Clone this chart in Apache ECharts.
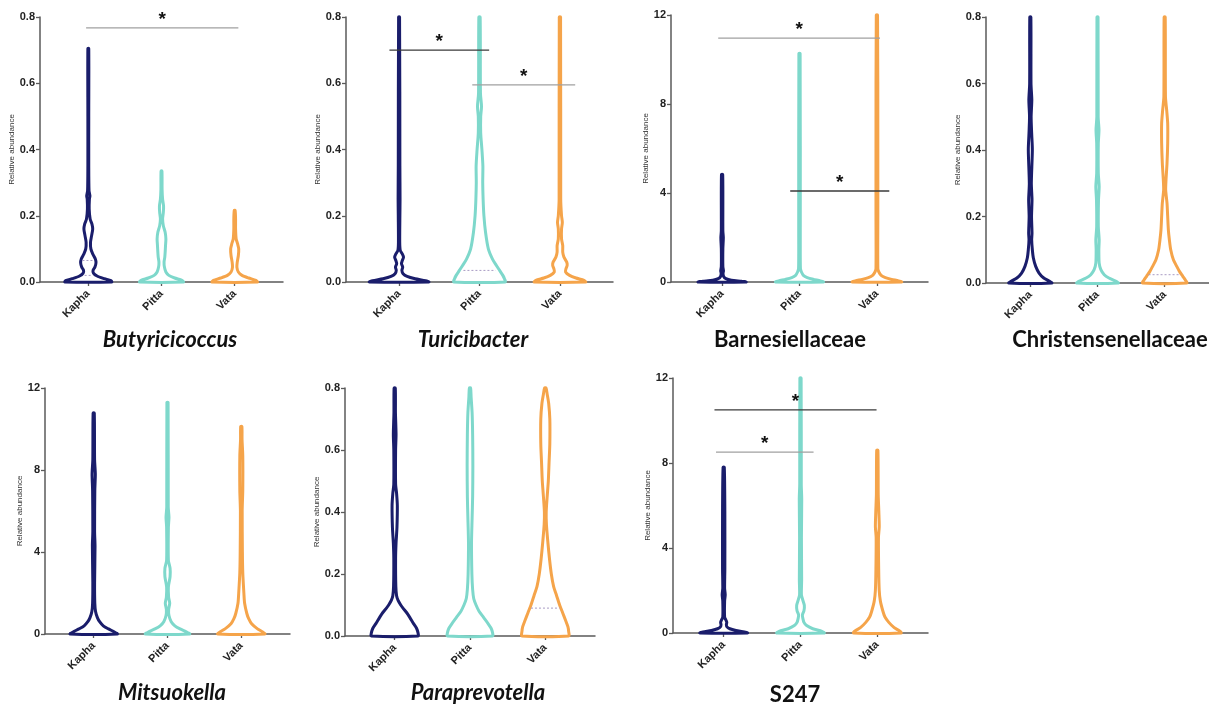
<!DOCTYPE html>
<html>
<head>
<meta charset="utf-8">
<script src="https://cdn.jsdelivr.net/npm/echarts@6/dist/echarts.min.js"></script>
<style>html,body{margin:0;background:#fff}#main{width:1209px;height:709px}</style>
</head>
<body>
<div id="main"></div>
<script>
// groups on the x axis
var groups = ['Kapha', 'Pitta', 'Vata'];

// violin outlines: [relative abundance, half width (in group spacing)]
var butyKapha = [[0,0.32],[0.004,0.31],[0.01,0.22],[0.018,0.12],[0.027,0.07],[0.035,0.065],[0.045,0.09],[0.058,0.105],[0.07,0.095],[0.085,0.06],[0.1,0.035],[0.12,0.03],[0.14,0.045],[0.16,0.06],[0.175,0.05],[0.19,0.025],[0.22,0.012],[0.25,0.015],[0.26,0.022],[0.275,0.01],[0.35,0.006],[0.5,0.006],[0.705,0.006]];
var butyPitta = [[0,0.3],[0.005,0.28],[0.012,0.18],[0.02,0.1],[0.03,0.06],[0.045,0.04],[0.06,0.035],[0.075,0.045],[0.09,0.05],[0.11,0.055],[0.13,0.06],[0.15,0.05],[0.17,0.025],[0.19,0.015],[0.21,0.025],[0.23,0.028],[0.25,0.015],[0.28,0.008],[0.335,0.006]];
var butyVata = [[0,0.31],[0.005,0.29],[0.012,0.19],[0.02,0.1],[0.03,0.05],[0.045,0.03],[0.06,0.035],[0.08,0.05],[0.1,0.055],[0.115,0.04],[0.13,0.02],[0.16,0.012],[0.19,0.012],[0.216,0.006]];

var turiKapha = [[0,0.37],[0.004,0.33],[0.01,0.2],[0.017,0.1],[0.025,0.05],[0.035,0.035],[0.045,0.045],[0.055,0.03],[0.065,0.04],[0.075,0.055],[0.085,0.04],[0.095,0.015],[0.12,0.008],[0.2,0.01],[0.25,0.012],[0.35,0.01],[0.8,0.006]];
var turiPitta = [[0,0.32],[0.01,0.31],[0.02,0.29],[0.035,0.25],[0.05,0.21],[0.07,0.16],[0.1,0.11],[0.15,0.075],[0.2,0.055],[0.25,0.045],[0.3,0.04],[0.35,0.042],[0.4,0.03],[0.45,0.015],[0.5,0.015],[0.53,0.025],[0.57,0.012],[0.8,0.008]];
var turiVata = [[0,0.32],[0.005,0.3],[0.012,0.2],[0.02,0.12],[0.03,0.07],[0.04,0.075],[0.05,0.09],[0.06,0.085],[0.075,0.05],[0.09,0.035],[0.11,0.035],[0.13,0.02],[0.16,0.02],[0.18,0.03],[0.2,0.02],[0.25,0.01],[0.8,0.008]];

var barnKapha = [[0,0.31],[0.03,0.25],[0.08,0.12],[0.15,0.05],[0.25,0.02],[0.4,0.012],[0.5,0.018],[0.7,0.01],[1.5,0.01],[2.0,0.016],[2.3,0.01],[4.83,0.008]];
var barnPitta = [[0,0.31],[0.05,0.27],[0.12,0.18],[0.2,0.1],[0.3,0.05],[0.45,0.025],[0.6,0.012],[2,0.01],[10.27,0.008]];
var barnVata = [[0,0.32],[0.05,0.28],[0.12,0.19],[0.2,0.11],[0.3,0.055],[0.45,0.025],[0.6,0.012],[3,0.012],[6,0.012],[12,0.008]];

var chriKapha = [[0,0.32],[0.006,0.28],[0.015,0.2],[0.03,0.13],[0.05,0.08],[0.075,0.045],[0.1,0.03],[0.13,0.02],[0.15,0.025],[0.2,0.018],[0.25,0.025],[0.3,0.015],[0.4,0.03],[0.45,0.02],[0.5,0.012],[0.55,0.022],[0.6,0.01],[0.8,0.008]];
var chriPitta = [[0,0.31],[0.006,0.27],[0.015,0.17],[0.025,0.1],[0.04,0.05],[0.06,0.025],[0.1,0.02],[0.13,0.025],[0.17,0.012],[0.25,0.015],[0.29,0.025],[0.33,0.012],[0.42,0.012],[0.46,0.022],[0.5,0.01],[0.8,0.008]];
var chriVata = [[0,0.33],[0.008,0.31],[0.02,0.27],[0.035,0.22],[0.05,0.18],[0.07,0.13],[0.1,0.09],[0.13,0.07],[0.16,0.055],[0.2,0.045],[0.24,0.035],[0.28,0.015],[0.31,0.02],[0.36,0.035],[0.42,0.045],[0.48,0.045],[0.52,0.03],[0.56,0.012],[0.8,0.008]];

var mitsKapha = [[0,0.32],[0.1,0.28],[0.25,0.2],[0.4,0.13],[0.6,0.08],[0.8,0.05],[1.1,0.025],[1.5,0.015],[2.5,0.012],[4.3,0.018],[5,0.012],[7,0.015],[7.8,0.022],[8.5,0.012],[10.78,0.008]];
var mitsPitta = [[0,0.3],[0.1,0.26],[0.25,0.17],[0.4,0.1],[0.6,0.05],[0.9,0.02],[1.2,0.015],[1.5,0.03],[1.8,0.015],[2.3,0.012],[2.8,0.035],[3.2,0.035],[3.6,0.012],[5.2,0.012],[5.7,0.02],[6.2,0.01],[11.3,0.008]];
var mitsVata = [[0,0.32],[0.1,0.29],[0.25,0.22],[0.5,0.14],[0.75,0.1],[1.0,0.075],[1.5,0.045],[2.0,0.035],[3,0.02],[4,0.015],[6,0.012],[7,0.02],[8.7,0.02],[9.5,0.01],[10.13,0.008]];

var paraKapha = [[0,0.31],[0.01,0.31],[0.025,0.29],[0.04,0.25],[0.06,0.2],[0.075,0.16],[0.09,0.11],[0.1,0.08],[0.115,0.045],[0.13,0.025],[0.16,0.015],[0.25,0.012],[0.3,0.018],[0.35,0.03],[0.42,0.035],[0.46,0.025],[0.49,0.012],[0.6,0.012],[0.65,0.018],[0.72,0.01],[0.8,0.008]];
var paraPitta = [[0,0.3],[0.01,0.3],[0.025,0.28],[0.04,0.24],[0.06,0.18],[0.08,0.12],[0.1,0.08],[0.12,0.05],[0.15,0.035],[0.2,0.025],[0.3,0.02],[0.38,0.028],[0.45,0.035],[0.55,0.038],[0.65,0.035],[0.72,0.028],[0.77,0.015],[0.8,0.008]];
var paraVata = [[0,0.31],[0.015,0.31],[0.03,0.3],[0.05,0.27],[0.075,0.23],[0.1,0.19],[0.13,0.15],[0.16,0.11],[0.2,0.08],[0.25,0.055],[0.3,0.035],[0.36,0.015],[0.4,0.012],[0.45,0.025],[0.5,0.04],[0.56,0.05],[0.62,0.06],[0.7,0.06],[0.75,0.045],[0.78,0.025],[0.8,0.01]];

var s247Kapha = [[0,0.31],[0.05,0.27],[0.12,0.16],[0.2,0.08],[0.3,0.04],[0.4,0.035],[0.5,0.04],[0.6,0.03],[0.75,0.012],[1.5,0.012],[1.8,0.02],[2.1,0.012],[3,0.015],[5.7,0.015],[7.8,0.008]];
var s247Pitta = [[0,0.31],[0.08,0.28],[0.2,0.16],[0.35,0.08],[0.5,0.045],[0.7,0.03],[0.85,0.025],[1.05,0.045],[1.3,0.05],[1.55,0.03],[1.8,0.012],[2.5,0.015],[4.5,0.012],[6.3,0.016],[7,0.01],[12,0.008]];
var s247Vata = [[0,0.31],[0.1,0.29],[0.25,0.22],[0.5,0.15],[0.75,0.1],[1,0.075],[1.5,0.04],[2,0.025],[3,0.018],[4.5,0.015],[5,0.025],[5.7,0.02],[6.5,0.012],[8.6,0.008]];

// significance bars: [from group, to group, height]
var butySig = [[-0.03, 2.05, 0.767]];
var turiSig = [[-0.12, 1.12, 0.70], [0.91, 2.19, 0.595]];
var barnSig = [[-0.05, 2.04, 10.96], [0.88, 2.16, 4.09]];
var s247Sig = [[-0.12, 1.99, 10.5], [-0.1, 1.17, 8.51]];

// dotted quartile marks: [group, value, half width]
var butyQuart = [[0, 0.02, 0.05], [0, 0.065, 0.08]];
var turiQuart = [[1, 0.035, 0.2]];
var chriQuart = [[2, 0.025, 0.24]];
var paraQuart = [[2, 0.09, 0.19]];

var colors = ['#1a1d6b', '#7ed8cb', '#f5a44a'];
var dark = '#3a3a3a', light = '#a0a0a0';

var panels = [
    {title: 'Butyricicoccus', italic: true, max: 0.8, step: 0.2, v: [butyKapha, butyPitta, butyVata], sig: butySig, tone: [light], q: butyQuart, box: [40, 17, 243, 265], at: [170, 340]},
    {title: 'Turicibacter', italic: true, max: 0.8, step: 0.2, v: [turiKapha, turiPitta, turiVata], sig: turiSig, tone: [dark, light], q: turiQuart, box: [346, 17, 267, 265], at: [473, 340]},
    {title: 'Barnesiellaceae', italic: false, max: 12, step: 4, v: [barnKapha, barnPitta, barnVata], sig: barnSig, tone: [light, dark], q: [], box: [671, 15, 257, 267], at: [790, 340]},
    {title: 'Christensenellaceae', italic: false, max: 0.8, step: 0.2, v: [chriKapha, chriPitta, chriVata], sig: [], tone: [], q: chriQuart, box: [986, 17, 254, 266], at: [1110, 340]},
    {title: 'Mitsuokella', italic: true, max: 12, step: 4, v: [mitsKapha, mitsPitta, mitsVata], sig: [], tone: [], q: [], box: [45, 388, 245, 246], at: [172, 693]},
    {title: 'Paraprevotella', italic: true, max: 0.8, step: 0.2, v: [paraKapha, paraPitta, paraVata], sig: [], tone: [], q: paraQuart, box: [345, 388, 250, 248], at: [478, 693]},
    {title: 'S247', italic: false, max: 12, step: 4, v: [s247Kapha, s247Pitta, s247Vata], sig: s247Sig, tone: [dark, light], q: [], box: [673, 378, 255, 255], at: [795, 695]}
];

function violinItem(profiles) {
    return function (params, api) {
        var g = params.dataIndex;
        var left = [], right = [];
        profiles[g].forEach(function (p) {
            left.push(api.coord([g - p[1], p[0]]));
            right.unshift(api.coord([g + p[1], p[0]]));
        });
        return {
            type: 'polygon',
            shape: {points: left.concat(right), smooth: 0.25},
            style: {fill: 'rgba(255,255,255,0)', stroke: colors[g], lineWidth: 3, lineJoin: 'round'}
        };
    };
}

function sigItem(tones) {
    return function (params, api) {
        var a = api.coord([api.value(0), api.value(2)]);
        var b = api.coord([api.value(1), api.value(2)]);
        return {
            type: 'group',
            children: [
                {type: 'line', shape: {x1: a[0], y1: a[1], x2: b[0], y2: b[1]}, style: {stroke: tones[params.dataIndex], lineWidth: 1.3}},
                {type: 'text', x: (a[0] + b[0]) / 2, y: a[1] - 8, style: {text: '*', textAlign: 'center', textVerticalAlign: 'middle', font: 'bold 19px "Liberation Sans", Arial', fill: '#111'}}
            ]
        };
    };
}

function quartItem(params, api) {
    var g = api.value(0), y = api.value(1), w = api.value(2);
    var a = api.coord([g - w, y]), b = api.coord([g + w, y]);
    return {type: 'line', shape: {x1: a[0], y1: a[1], x2: b[0], y2: b[1]}, style: {stroke: '#a99cc4', lineWidth: 1, lineDash: [2, 2]}};
}

var grid = [], xAxis = [], yAxis = [], series = [], graphic = [];
panels.forEach(function (p, i) {
    grid.push({left: p.box[0], top: p.box[1], width: p.box[2], height: p.box[3], containLabel: false});
    xAxis.push({
        type: 'value', gridIndex: i, min: -0.66, max: 2.66,
        splitLine: {show: false},
        axisLine: {onZero: false, lineStyle: {color: '#5a5a5a', width: 1.5}},
        axisTick: {customValues: [0, 1, 2], length: 4, lineStyle: {color: '#5a5a5a', width: 1.3}},
        axisLabel: {
            customValues: [0, 1, 2], rotate: 45, margin: 10,
            formatter: function (v) { return groups[Math.round(v)]; },
            fontFamily: '"Liberation Sans", Arial', fontWeight: 'bold', fontSize: 11, color: '#222'
        }
    });
    yAxis.push({
        type: 'value', gridIndex: i, min: 0, max: p.max, interval: p.step,
        name: 'Relative abundance', nameLocation: 'middle', nameGap: p.max < 1 ? 24 : 20,
        nameTextStyle: {fontFamily: '"Liberation Sans", Arial', fontSize: 8, color: '#333'},
        splitLine: {show: false},
        axisLine: {show: true, onZero: false, lineStyle: {color: '#5a5a5a', width: 1.5}},
        axisTick: {show: true, length: 4, lineStyle: {color: '#5a5a5a', width: 1.3}},
        axisLabel: {
            margin: 5,
            formatter: function (v) { return p.max < 1 ? v.toFixed(1) : String(v); },
            fontFamily: '"Liberation Sans", Arial', fontWeight: 'bold', fontSize: 11, color: '#222'
        }
    });
    series.push({
        type: 'custom', xAxisIndex: i, yAxisIndex: i,
        renderItem: violinItem(p.v),
        encode: {x: 0, y: 1},
        data: [[0, 0], [1, 0], [2, 0]],
        silent: true
    });
    if (p.q.length) {
        series.push({type: 'custom', xAxisIndex: i, yAxisIndex: i, renderItem: quartItem, encode: {x: 0, y: 1}, data: p.q, silent: true, z: 3});
    }
    if (p.sig.length) {
        series.push({type: 'custom', xAxisIndex: i, yAxisIndex: i, renderItem: sigItem(p.tone), encode: {x: 0, y: 2}, data: p.sig, silent: true, z: 4});
    }
    graphic.push({
        type: 'text', x: p.at[0], y: p.at[1],
        style: {
            text: p.title, textAlign: 'center', textVerticalAlign: 'middle',
            font: (p.italic ? 'italic ' : '') + 'bold 22px Lato, "Open Sans", sans-serif', fill: '#111'
        }
    });
});

var myChart = echarts.init(document.getElementById('main'));
var option = {
    animation: false,
    grid: grid,
    xAxis: xAxis,
    yAxis: yAxis,
    series: series,
    graphic: graphic
};
myChart.setOption(option);
</script>
</body>
</html>
